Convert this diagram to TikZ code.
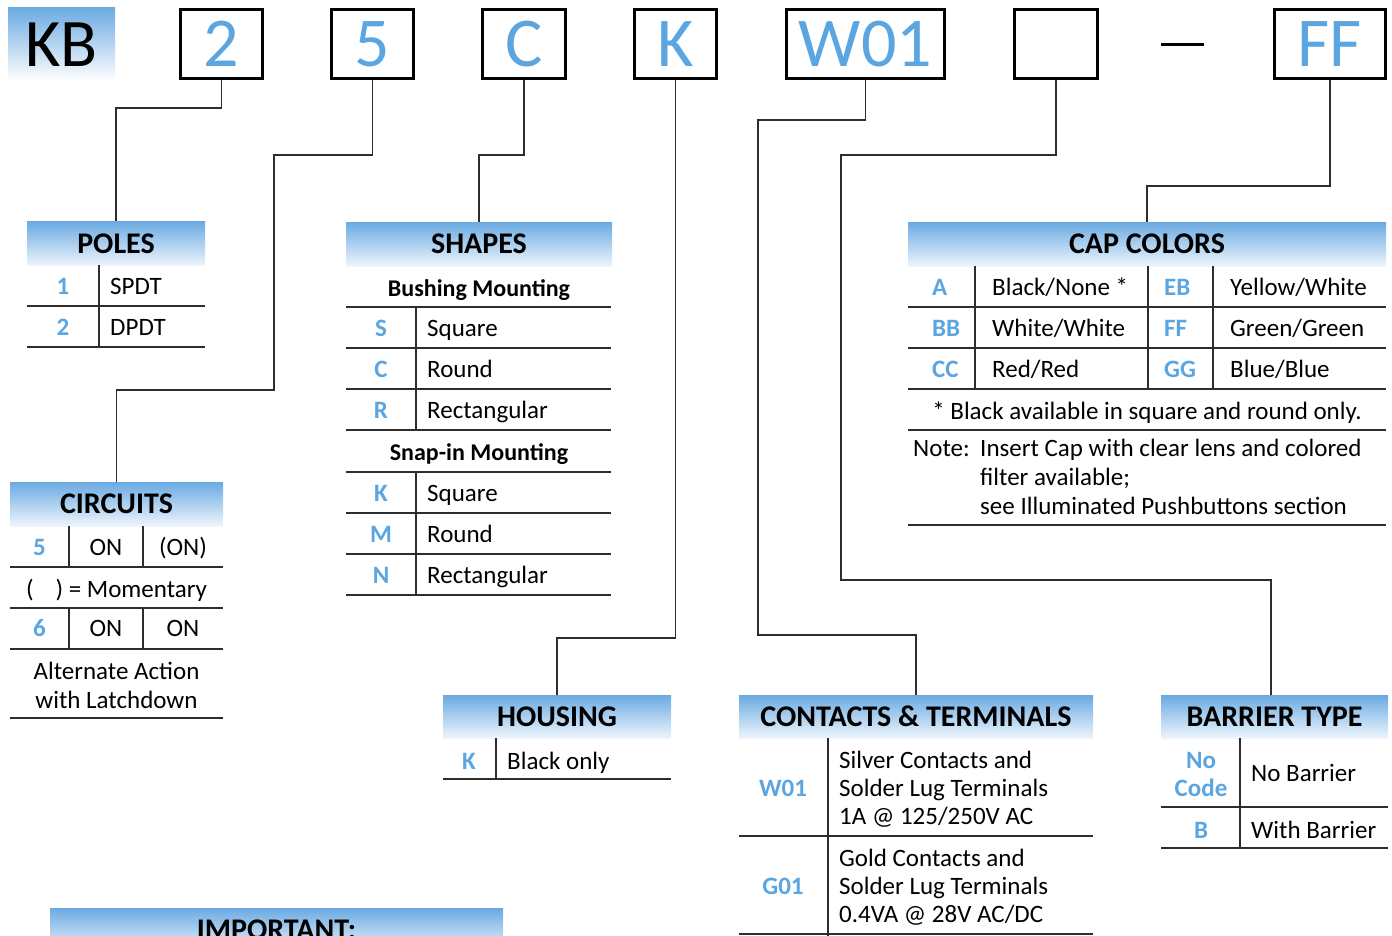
\documentclass[tikz,border=0pt]{standalone}
\usepackage{fontspec}
\setmainfont{Carlito}
\usetikzlibrary{positioning}
\definecolor{codeblue}{RGB}{91,165,224}
\definecolor{hdrblue}{RGB}{106,170,226}
\definecolor{hdrpale}{RGB}{238,245,252}
\definecolor{inkgray}{RGB}{45,45,45}
\tikzset{pnbox/.style={draw,line width=3pt,minimum height=69pt,inner sep=0pt,text height=45pt,text depth=0pt,text=codeblue,font=\fontsize{70}{70}\selectfont},
	 hdr/.style={top color=hdrblue,bottom color=hdrpale,inner sep=0pt,minimum height=44pt,text height=19pt,text depth=0pt,font=\fontsize{30}{30}\selectfont\bfseries},
	 cell/.style={inner sep=0pt,text height=16pt,text depth=0pt,font=\fontsize{25}{25}\selectfont},
	 pndesc/.style={cell,anchor=west},
	 pncode/.style={cell,text=codeblue,font=\fontsize{25}{25}\selectfont\bfseries},
	 subhdr/.style={cell,font=\fontsize{24}{24}\selectfont\bfseries},
	 rule/.style={line width=1.8pt,inkgray},
	 wire/.style={line width=1.5pt,inkgray}
	 }

\begin{document}
\begin{tikzpicture}[x=1pt,y=-1pt] % KB pushbutton ordering code
	\useasboundingbox (0,0) rectangle (1392,935);
	\clip (0,0) rectangle (1392,935);
	\node[top color=hdrblue,bottom color=white,minimum width=107pt,minimum height=74pt,inner sep=0pt,text height=45pt,text depth=0pt,font=\fontsize{68}{68}\selectfont] (kb) at (61.5,44) {KB};
	\node[pnbox,minimum width=82pt] (pn2) at (221.5,44) {2};
	\node[pnbox,minimum width=82pt] (pn5) at (372.5,44) {5};
	\node[pnbox,minimum width=83pt] (pnC) at (524,44) {C};
	\node[pnbox,minimum width=82pt] (pnK) at (675.5,44) {K};
	\node[pnbox,minimum width=158pt] (pnW) at (865.5,44) {W01};
	\node[pnbox,minimum width=83pt] (pnE) at (1056,44) {};
	\node[pnbox,minimum width=111pt] (pnF) at (1330,44) {FF};
	\draw[line width=3pt] (1161,44) -- (1204,44);

	\node[hdr,minimum width=178pt] (poles) at (116,243.5) {POLES};
	\node[hdr,minimum width=266pt] (shapes) at (479,244) {SHAPES};
	\node[hdr,minimum width=478pt] (cap) at (1147,244) {CAP COLORS};
	\node[hdr,minimum width=213pt] (circ) at (116.5,504) {CIRCUITS};
	\node[hdr,minimum width=228pt,minimum height=43pt] (hous) at (557,716.5) {HOUSING};
	\node[hdr,minimum width=354pt,minimum height=43pt] (cont) at (916,716.5) {CONTACTS \& TERMINALS};
	\node[hdr,minimum width=227pt,minimum height=43pt] (barr) at (1274.5,716.5) {BARRIER TYPE};
	\node[hdr,minimum width=453pt] (imp) at (276.5,930) {IMPORTANT:};

	\draw[wire] (pn2.south) -- ++(0,28) -| (poles.north);
	\draw[wire] (pn5.south) -- ++(0,75) -- ++(-98.5,0) -- ++(0,235) -| (circ.north);
	\draw[wire] (pnC.south) -- ++(0,75) -| (shapes.north);
	\draw[wire] (pnK.south) -- ++(0,558) -| (hous.north);
	\draw[wire] (pnW.south) -- ++(0,40) -- ++(-107.5,0) -- ++(0,515) -| (cont.north);
	\draw[wire] (pnE.south) -- ++(0,75) -- ++(-215,0) -- ++(0,425) -| ([xshift=-3.5pt]barr.north);
	\draw[wire] (pnF.south) -- ++(0,106) -| (cap.north);

	% poles
	\draw[rule] (27,306) -- (205,306) (27,347) -- (205,347) (99,265) -- (99,347);
	\node[pncode] (p1) at (63,286) {1};
	\node[pndesc] (p1d) at (110,286) {SPDT};
	\node[pncode] (p2) at (63,327) {2};
	\node[pndesc] (p2d) at (110,327) {DPDT};

	% shapes
	\node[subhdr] (bush) at (479,288) {Bushing Mounting};
	\draw[rule] (346,307) -- (611,307) (346,348) -- (611,348) (346,389) -- (611,389) (346,430) -- (611,430) (416,307) -- (416,430);
	\node[pncode] (sS) at (381,328) {S};
	\node[pndesc] (sSd) at (427,328) {Square};
	\node[pncode] (sC) at (381,369) {C};
	\node[pndesc] (sCd) at (427,369) {Round};
	\node[pncode] (sR) at (381,410) {R};
	\node[pndesc] (sRd) at (427,410) {Rectangular};
	\node[subhdr] (snap) at (479,452) {Snap-in Mounting};
	\draw[rule] (346,472) -- (611,472) (346,513) -- (611,513) (346,554) -- (611,554) (346,595) -- (611,595) (416,472) -- (416,595);
	\node[pncode] (sK) at (381,493) {K};
	\node[pndesc] (sKd) at (427,493) {Square};
	\node[pncode] (sM) at (381,534) {M};
	\node[pndesc] (sMd) at (427,534) {Round};
	\node[pncode] (sN) at (381,575) {N};
	\node[pndesc] (sNd) at (427,575) {Rectangular};

	% cap colors
	\draw[rule] (908,307) -- (1386,307) (908,348) -- (1386,348) (908,389) -- (1386,389) (908,430) -- (1386,430) (908,525) -- (1386,525);
	\draw[rule] (975,266) -- (975,389) (1148,266) -- (1148,389) (1213,266) -- (1213,389);
	\node[pncode,anchor=west] (cA) at (932,287) {A};
	\node[pndesc] (cAd) at (992,287) {Black/None~*};
	\node[pncode,anchor=west] (cEB) at (1164,287) {EB};
	\node[pndesc] (cEBd) at (1230,287) {Yellow/White};
	\node[pncode,anchor=west] (cBB) at (932,328) {BB};
	\node[pndesc] (cBBd) at (992,328) {White/White};
	\node[pncode,anchor=west] (cFF) at (1164,328) {FF};
	\node[pndesc] (cFFd) at (1230,328) {Green/Green};
	\node[pncode,anchor=west] (cCC) at (932,369) {CC};
	\node[pndesc] (cCCd) at (992,369) {Red/Red};
	\node[pncode,anchor=west] (cGG) at (1164,369) {GG};
	\node[pndesc] (cGGd) at (1230,369) {Blue/Blue};
	\node[cell] (star) at (1147,411) {* Black available in square and round only.};
	\node[pndesc] (note) at (913,448) {Note:};
	\node[pndesc] (note1) at (980,448) {Insert Cap with clear lens and colored};
	\node[pndesc] (note2) at (980,477) {filter available;};
	\node[pndesc] (note3) at (980,506) {see Illuminated Pushbuttons section};

	% circuits
	\draw[rule] (10,567) -- (223,567) (10,608) -- (223,608) (10,649) -- (223,649) (10,718) -- (223,718);
	\draw[rule] (69,526) -- (69,567) (143,526) -- (143,567) (69,608) -- (69,649) (143,608) -- (143,649);
	\node[pncode] (c5) at (39.5,547) {5};
	\node[cell] (c5a) at (106,547) {ON};
	\node[cell] (c5b) at (183,547) {(ON)};
	\node[cell] (mom) at (116.5,589) {(\hspace{22pt}) = Momentary};
	\node[pncode] (c6) at (39.5,628) {6};
	\node[cell] (c6a) at (106,628) {ON};
	\node[cell] (c6b) at (183,628) {ON};
	\node[cell] (alt1) at (116.5,671) {Alternate Action};
	\node[cell] (alt2) at (116.5,700) {with Latchdown};

	% housing
	\draw[rule] (443,779) -- (671,779) (496,738) -- (496,779);
	\node[pncode] (hK) at (469,761) {K};
	\node[pndesc] (hKd) at (507,761) {Black only};

	% contacts and terminals
	\draw[rule] (739,836) -- (1093,836) (739,934) -- (1093,934) (828,738) -- (828,936);
	\node[pncode] (tW) at (783,788) {W01};
	\node[pndesc] (tW1) at (839,760) {Silver Contacts and};
	\node[pndesc] (tW2) at (839,788) {Solder Lug Terminals};
	\node[pndesc] (tW3) at (839,816) {1A @ 125/250V AC};
	\node[pncode] (tG) at (783,886) {G01};
	\node[pndesc] (tG1) at (839,858) {Gold Contacts and};
	\node[pndesc] (tG2) at (839,886) {Solder Lug Terminals};
	\node[pndesc] (tG3) at (839,914) {0.4VA @ 28V AC/DC};

	% barrier type
	\draw[rule] (1161,807) -- (1388,807) (1161,848) -- (1388,848) (1240,738) -- (1240,848);
	\node[pncode] (bNo) at (1201,760) {No};
	\node[pncode] (bCode) at (1201,788) {Code};
	\node[pndesc] (bNod) at (1251,773) {No Barrier};
	\node[pncode] (bB) at (1201,830) {B};
	\node[pndesc] (bBd) at (1251,830) {With Barrier};
\end{tikzpicture}
\end{document}
